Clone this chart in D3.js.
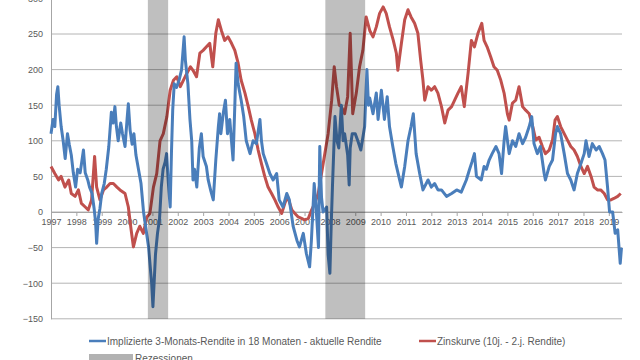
<!DOCTYPE html>
<html>
<head>
<meta charset="utf-8">
<script src="https://cdn.jsdelivr.net/npm/d3@7"></script>
<style>
  body { margin: 0; background: white; }
  text { font-family: "Liberation Sans", Arial, sans-serif; fill: #595959; }
</style>
</head>
<body>
<svg id="chart"></svg>
<script>
// Implizierte 3-Monats-Rendite in 18 Monaten - aktuelle Rendite (Basispunkte)
let impliedYears = [
  1997.00, 1997.08, 1997.15, 1997.22, 1997.27, 1997.32, 1997.40, 1997.48, 1997.56, 1997.65, 1997.72, 1997.80, 1997.88, 1997.97,
  1998.05, 1998.15, 1998.28, 1998.35, 1998.45, 1998.52, 1998.62, 1998.70, 1998.76, 1998.80, 1998.86, 1998.93,
  1999.00, 1999.10, 1999.18, 1999.28, 1999.38, 1999.45, 1999.52, 1999.58, 1999.65, 1999.75, 1999.82, 1999.92,
  2000.00, 2000.05, 2000.12, 2000.20, 2000.27, 2000.35, 2000.45, 2000.55, 2000.65, 2000.75, 2000.85, 2000.92, 2000.97,
  2001.02, 2001.08, 2001.12, 2001.20, 2001.28, 2001.35, 2001.42, 2001.50, 2001.56, 2001.63, 2001.70, 2001.75, 2001.80, 2001.86, 2001.95,
  2002.05, 2002.15, 2002.25, 2002.30, 2002.40, 2002.48, 2002.55, 2002.60, 2002.66, 2002.75, 2002.85, 2002.93,
  2003.00, 2003.13, 2003.20, 2003.30, 2003.40, 2003.50, 2003.60, 2003.65, 2003.70, 2003.80, 2003.88, 2003.96,
  2004.05, 2004.18, 2004.25, 2004.30, 2004.38, 2004.50, 2004.60, 2004.70, 2004.85, 2004.97,
  2005.10, 2005.24, 2005.30, 2005.37, 2005.50, 2005.63, 2005.76, 2005.90,
  2006.00, 2006.15, 2006.30, 2006.40, 2006.55, 2006.70, 2006.80, 2006.95,
  2007.07, 2007.20, 2007.27, 2007.38, 2007.45, 2007.55, 2007.60, 2007.67, 2007.73, 2007.87, 2007.93,
  2008.00, 2008.05, 2008.10, 2008.20, 2008.28, 2008.35, 2008.45, 2008.52, 2008.58, 2008.70, 2008.76, 2008.80, 2008.88,
  2009.00, 2009.10, 2009.22, 2009.37, 2009.46, 2009.52, 2009.57, 2009.70, 2009.83, 2009.90,
  2010.03, 2010.15, 2010.26, 2010.35, 2010.48, 2010.60, 2010.75, 2010.82, 2010.95,
  2011.08, 2011.20, 2011.29, 2011.40, 2011.54, 2011.67, 2011.87,
  2012.00, 2012.13, 2012.26, 2012.40, 2012.60, 2012.80,
  2013.00, 2013.18, 2013.38, 2013.50, 2013.60, 2013.70, 2013.78, 2013.97,
  2014.08, 2014.17, 2014.28, 2014.40, 2014.55, 2014.67, 2014.77, 2014.87, 2014.93,
  2015.07, 2015.20, 2015.33, 2015.46, 2015.60, 2015.72, 2015.86, 2015.96,
  2016.05, 2016.18, 2016.30, 2016.45, 2016.50, 2016.65, 2016.78, 2016.90, 2016.97,
  2017.10, 2017.24, 2017.37, 2017.50, 2017.63, 2017.76, 2017.90,
  2018.03, 2018.10, 2018.22, 2018.35, 2018.50, 2018.62, 2018.75, 2018.85, 2018.95,
  2019.03, 2019.15, 2019.25, 2019.35, 2019.45, 2019.50
];
let impliedValues = [
  110, 130, 120, 165, 176, 150, 120, 100, 75, 110, 95, 80, 55, 35,
  60, 55, 87, 55, 45, 35, 26, 5, -15, -44, -10, 5,
  26, 40, 60, 92, 140, 125, 148, 120, 100, 125, 110, 92,
  130, 152, 115, 95, 110, 80, 60, 40, 0, -25, -50, -80, -100,
  -133, -90, -60, -30, -10, 35, 60, 70, 82, 40, 7, 82, 143, 180, 175,
  185, 200, 246, 213, 180, 130, 100, 45, 60, 35, 90, 110,
  78, 64, 45, 30, 17, 73, 120, 138, 110, 140, 157, 110,
  130, 73, 150, 209, 180, 157, 134, 100, 82, 100,
  96, 130, 100, 82, 68, 54, 45, 54,
  17, 7, 26, 17, -20, -40, -49, -30,
  -58, -77, -40, 40, 10, -50, 92, 20, 0, 7, -60,
  -86, -20, 35, 134, 100, 90, 150, 100, 110, 80, 38, 90, 110,
  110, 100, 87, 120, 200, 150, 160, 138, 167, 130,
  171, 130, 162, 120, 92, 68, 45, 35, 64,
  100, 120, 138, 82, 54, 31, 45,
  35, 40, 31, 31, 22, 26,
  31, 28, 45, 59, 70, 82, 50, 45,
  64, 60, 73, 82, 92, 82, 54, 100, 120,
  82, 100, 92, 110, 96, 105, 120, 134,
  96, 82, 92, 54, 45, 64, 73, 110, 120,
  110, 82, 54, 45, 31, 54, 68,
  82, 100, 78, 96, 87, 92, 82, 73, 35,
  0, 0, -30, -25, -72, -50
];

// Zinskurve (10j. - 2.j. Rendite) (Basispunkte)
let curveYears = [
  1997.00, 1997.15, 1997.30, 1997.40, 1997.55, 1997.70, 1997.80, 1997.95,
  1998.08, 1998.20, 1998.35, 1998.47, 1998.60, 1998.72, 1998.80, 1998.93,
  1999.07, 1999.20, 1999.33, 1999.46, 1999.60, 1999.72, 1999.92,
  2000.05, 2000.16, 2000.25, 2000.38, 2000.50, 2000.64, 2000.78, 2000.90,
  2001.04, 2001.17, 2001.30, 2001.43, 2001.57, 2001.70, 2001.83, 2001.96,
  2002.10, 2002.22, 2002.36, 2002.50, 2002.60, 2002.74, 2002.87,
  2003.00, 2003.13, 2003.26, 2003.38, 2003.50, 2003.60, 2003.72, 2003.85, 2003.98,
  2004.12, 2004.25, 2004.38, 2004.50, 2004.65, 2004.78, 2004.90,
  2005.04, 2005.17, 2005.30, 2005.43, 2005.56, 2005.70, 2005.83, 2005.96,
  2006.10, 2006.22, 2006.33, 2006.50, 2006.62, 2006.75, 2006.88,
  2007.00, 2007.15, 2007.28, 2007.40, 2007.54, 2007.67, 2007.80, 2007.93,
  2008.07, 2008.17, 2008.26, 2008.37, 2008.45, 2008.58, 2008.70, 2008.80, 2008.90,
  2009.04, 2009.17, 2009.30, 2009.43, 2009.57, 2009.70, 2009.83, 2009.96,
  2010.10, 2010.22, 2010.35, 2010.50, 2010.62, 2010.68, 2010.82, 2010.95,
  2011.08, 2011.20, 2011.34, 2011.47, 2011.58, 2011.67, 2011.74, 2011.87,
  2012.00, 2012.13, 2012.26, 2012.40, 2012.53, 2012.66, 2012.80, 2012.92,
  2013.05, 2013.18, 2013.30, 2013.45, 2013.58, 2013.70, 2013.84, 2013.99,
  2014.08, 2014.20, 2014.34, 2014.47, 2014.60, 2014.74, 2014.87,
  2015.00, 2015.07, 2015.20, 2015.33, 2015.46, 2015.60, 2015.72, 2015.86,
  2016.00, 2016.12, 2016.25, 2016.38, 2016.50, 2016.65, 2016.78, 2016.88, 2016.97,
  2017.10, 2017.24, 2017.37, 2017.50, 2017.63, 2017.76, 2017.90,
  2018.03, 2018.16, 2018.30, 2018.42, 2018.55, 2018.68, 2018.82, 2018.95,
  2019.08, 2019.20, 2019.35, 2019.47
];
let curveValues = [
  64, 54, 45, 50, 35, 45, 26, 22,
  31, 12, 7, 3, 17, 78, 35, 17,
  31, 35, 40, 40, 35, 31, 26,
  7, -25, -49, -30, -20, -30, -7, -2,
  35, 54, 100, 110, 134, 171, 185, 190,
  176, 185, 195, 204, 199, 190, 223,
  227, 232, 237, 204, 251, 270, 255, 241, 246,
  237, 227, 209, 185, 167, 148, 129,
  110, 87, 68, 50, 35, 26, 17, 7,
  -2, 12, 22, 3, -2, -7, -9,
  -11, -9, 3, 12, 26, 54, 82, 110,
  157, 204, 176, 150, 148, 138, 162, 251, 138,
  167, 204, 227, 274, 255, 246, 260, 279,
  288, 279, 260, 241, 223, 199, 237, 270,
  284, 274, 265, 251, 213, 185, 157, 176,
  171, 176, 167, 148, 125, 143, 148, 157,
  167, 176, 148, 195, 241, 232, 251, 265,
  241, 232, 218, 204, 199, 185, 167,
  138, 129, 153, 157, 176, 148, 143, 138,
  120, 101, 105, 92, 82, 87, 101, 129, 134,
  120, 110, 101, 92, 87, 78, 64,
  54, 64, 50, 35, 31, 31, 26, 17,
  17, 19, 22, 26
];

// Rezessionen (Beginn, Ende)
let recessionStarts = [2000.82, 2007.82];
let recessionEnds = [2001.62, 2009.39];

let yTicks = [-150, -100, -50, 0, 50, 100, 150, 200, 250, 300];
let yearTicks = d3.range(1997, 2020);

let legendLabels = [
  'Implizierte 3-Monats-Rendite in 18 Monaten - aktuelle Rendite',
  'Zinskurve (10j. - 2.j. Rendite)',
  'Rezessionen'
];

function createGraph() {
  let width = 640;
  let height = 360;

  let svg = d3.select('#chart');
  svg.selectAll('*').remove();
  svg.attr('width', width).attr('height', height);

  let xScale = d3.scaleLinear()
    .domain([1997, 2019.52])
    .range([51, 622]);

  let yScale = d3.scaleLinear()
    .domain([-150, 300])
    .range([318.8, -1.6]);

  // gridlines
  svg.append('g')
    .selectAll('line')
    .data(yTicks)
    .enter()
    .append('line')
    .attr('x1', 51)
    .attr('x2', 622)
    .attr('y1', d => yScale(d))
    .attr('y2', d => yScale(d))
    .attr('stroke', '#b4b4b4')
    .attr('stroke-width', 1);

  // left axis
  let yAxis = svg.append('g')
    .attr('transform', 'translate(51, 0)')
    .call(d3.axisLeft(yScale).tickValues(yTicks).tickSize(0).tickPadding(8));
  yAxis.select('.domain').attr('stroke', '#a6a6a6');
  yAxis.selectAll('text')
    .style('font-size', '9px')
    .style('fill', '#595959')
    .style('font-family', '"Liberation Sans", Arial, sans-serif');

  // x axis on the zero line
  let xAxis = svg.append('g')
    .attr('transform', `translate(0, ${yScale(0)})`)
    .call(d3.axisBottom(xScale).tickValues(yearTicks).tickFormat(d3.format('d')).tickSize(4).tickSizeOuter(0).tickPadding(3));
  xAxis.select('.domain').attr('stroke', '#a6a6a6');
  xAxis.selectAll('.tick line').attr('stroke', '#a6a6a6');
  xAxis.selectAll('text')
    .style('font-size', '9px')
    .style('fill', '#595959')
    .style('font-family', '"Liberation Sans", Arial, sans-serif');

  let line = d3.line()
    .x(d => xScale(d[0]))
    .y(d => yScale(d[1]));

  svg.append('path')
    .datum(d3.zip(curveYears, curveValues))
    .attr('d', line)
    .attr('fill', 'none')
    .attr('stroke', '#c0504d')
    .attr('stroke-width', 3)
    .attr('stroke-linejoin', 'round');

  svg.append('path')
    .datum(d3.zip(impliedYears, impliedValues))
    .attr('d', line)
    .attr('fill', 'none')
    .attr('stroke', '#4a7ebb')
    .attr('stroke-width', 3)
    .attr('stroke-linejoin', 'round');

  // recession bands drawn over the lines
  svg.append('g')
    .selectAll('rect')
    .data(d3.zip(recessionStarts, recessionEnds))
    .enter()
    .append('rect')
    .attr('x', d => xScale(d[0]))
    .attr('width', d => xScale(d[1]) - xScale(d[0]))
    .attr('y', yScale(300))
    .attr('height', yScale(-150) - yScale(300))
    .attr('fill', 'black')
    .attr('fill-opacity', 0.25);

  // legend
  let legend = svg.append('g').style('font-size', '10px');
  legend.append('line')
    .attr('x1', 89).attr('x2', 106).attr('y1', 341).attr('y2', 341)
    .attr('stroke', '#4a7ebb').attr('stroke-width', 2.5);
  legend.append('text').attr('x', 107).attr('y', 344.5).text(legendLabels[0]);
  legend.append('line')
    .attr('x1', 419).attr('x2', 436).attr('y1', 341).attr('y2', 341)
    .attr('stroke', '#c0504d').attr('stroke-width', 2.5);
  legend.append('text').attr('x', 437).attr('y', 344.5).text(legendLabels[1]);
  legend.append('rect')
    .attr('x', 89).attr('y', 354).attr('width', 44).attr('height', 10)
    .attr('fill', 'black').attr('fill-opacity', 0.3);
  legend.append('text').attr('x', 135).attr('y', 362).text(legendLabels[2]);
}

createGraph();
</script>
</body>
</html>
